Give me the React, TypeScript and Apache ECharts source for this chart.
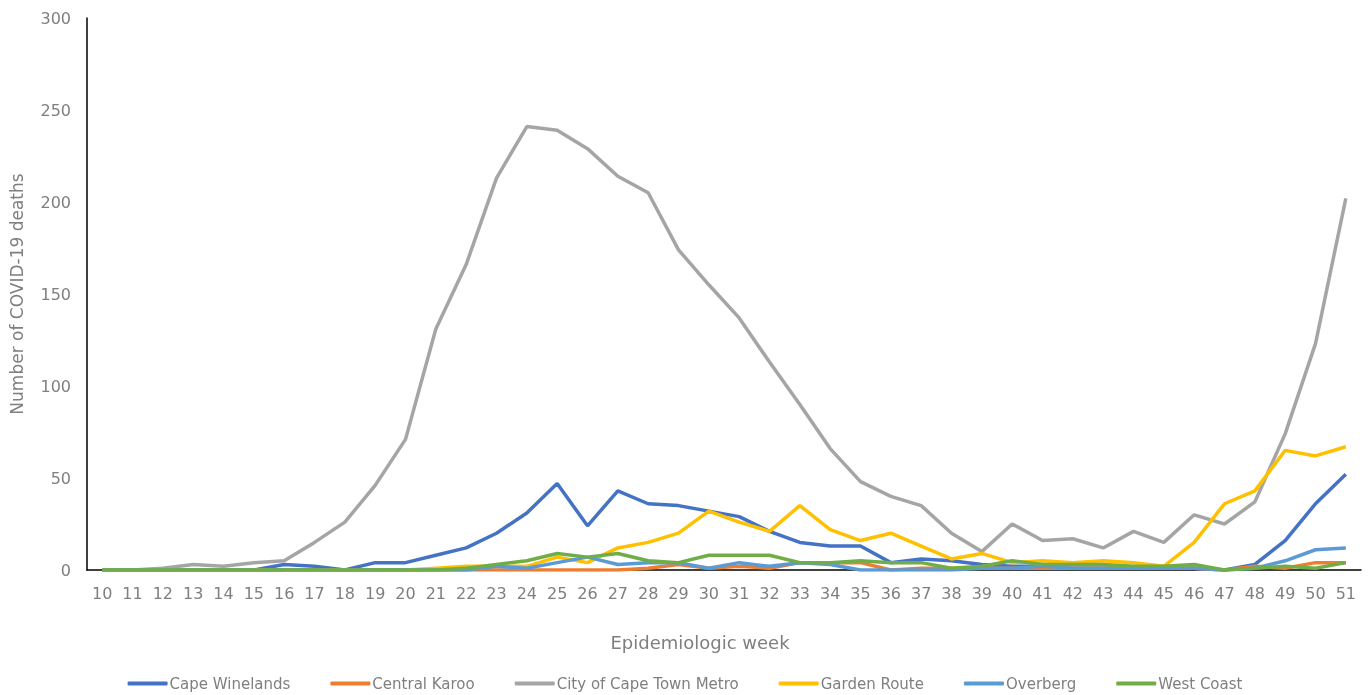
import React, { useEffect, useRef } from "react";
import * as echarts from "echarts";

const weeks = ["10","11","12","13","14","15","16","17","18","19","20","21","22","23","24","25","26","27","28","29","30","31","32","33","34","35","36","37","38","39","40","41","42","43","44","45","46","47","48","49","50","51"];

const capeWinelands = [0,0,0,0,0,0,3,2,0,4,4,8,12,20,31,47,24,43,36,35,32,29,21,15,13,13,4,6,5,3,2,2,1,1,1,1,1,0,3,16,36,52];
const centralKaroo = [0,0,0,0,0,0,0,0,0,0,0,0,0,0,0,0,0,0,1,3,1,2,1,4,4,4,0,1,1,1,1,1,1,1,1,1,1,0,2,1,4,4];
const cityOfCapeTown = [0,0,1,3,2,4,5,15,26,46,71,131,166,213,241,239,229,214,205,174,155,137,113,90,66,48,40,35,20,10,25,16,17,12,21,15,30,25,37,74,123,202];
const gardenRoute = [0,0,0,0,0,0,0,0,0,0,0,1,2,2,2,7,4,12,15,20,32,26,21,35,22,16,20,13,6,9,4,5,4,5,4,2,15,36,43,65,62,67];
const overberg = [0,0,0,0,0,0,0,0,0,0,0,0,0,2,1,4,7,3,4,4,1,4,2,4,3,0,0,0,0,1,1,2,1,1,1,1,1,0,1,5,11,12];
const westCoast = [0,0,0,0,0,0,0,0,0,0,0,0,1,3,5,9,7,9,5,4,8,8,8,4,4,5,4,4,1,2,5,3,3,3,2,2,3,0,1,2,1,4];

const seriesNames = ["Cape Winelands","Central Karoo","City of Cape Town Metro","Garden Route","Overberg","West Coast"];
const seriesData = [capeWinelands, centralKaroo, cityOfCapeTown, gardenRoute, overberg, westCoast];
const colors = ["#4472C4","#ED7D31","#A5A5A5","#FFC000","#5B9BD5","#70AD47"];

const FONT = "DejaVu Sans";
const TEXT = "#7F7F7F";

export default function App() {
  const ref = useRef<HTMLDivElement>(null);
  useEffect(() => {
    if (!ref.current) return;
    const chart = echarts.init(ref.current, undefined, { renderer: "svg" });
    chart.setOption({
      animation: false,
      color: colors,
      textStyle: { fontFamily: FONT },
      grid: { left: 81, right: 9, top: 18, bottom: 125, containLabel: false },
      legend: {
        bottom: -1,
        left: "center",
        itemWidth: 40,
        itemHeight: 4,
        itemGap: 40,
        icon: "roundRect",
        textStyle: { color: TEXT, fontSize: 15, fontFamily: FONT, padding: [0, 0, 0, -3] },
        data: seriesNames,
      },
      xAxis: {
        type: "category",
        data: weeks,
        boundaryGap: true,
        name: "Epidemiologic week",
        nameLocation: "middle",
        nameGap: 63,
        nameTextStyle: { color: TEXT, fontSize: 18, fontFamily: FONT, padding: [0, 48, 0, 0] },
        axisLine: { lineStyle: { color: "#000", width: 1.5 } },
        axisTick: { show: false },
        axisLabel: { color: TEXT, fontSize: 16, fontFamily: FONT, margin: 15, interval: 0 },
      },
      yAxis: {
        type: "value",
        min: 0,
        max: 300,
        interval: 50,
        name: "Number of COVID-19 deaths",
        nameLocation: "middle",
        nameGap: 62,
        nameTextStyle: { color: TEXT, fontSize: 17, fontFamily: FONT },
        axisLine: { show: true, lineStyle: { color: "#000", width: 1.5 } },
        axisTick: { show: false },
        splitLine: { show: false },
        axisLabel: { color: TEXT, fontSize: 16, fontFamily: FONT, margin: 16 },
      },
      series: seriesNames.map((n, i) => ({
        name: n,
        type: "line",
        data: seriesData[i],
        symbol: "none",
        lineStyle: { width: 3.5, color: colors[i] },
        itemStyle: { color: colors[i] },
      })),
    });
    return () => chart.dispose();
  }, []);
  return <div ref={ref} style={{ position: "fixed", left: 0, top: 0, width: 1370, height: 695 }} />;
}
